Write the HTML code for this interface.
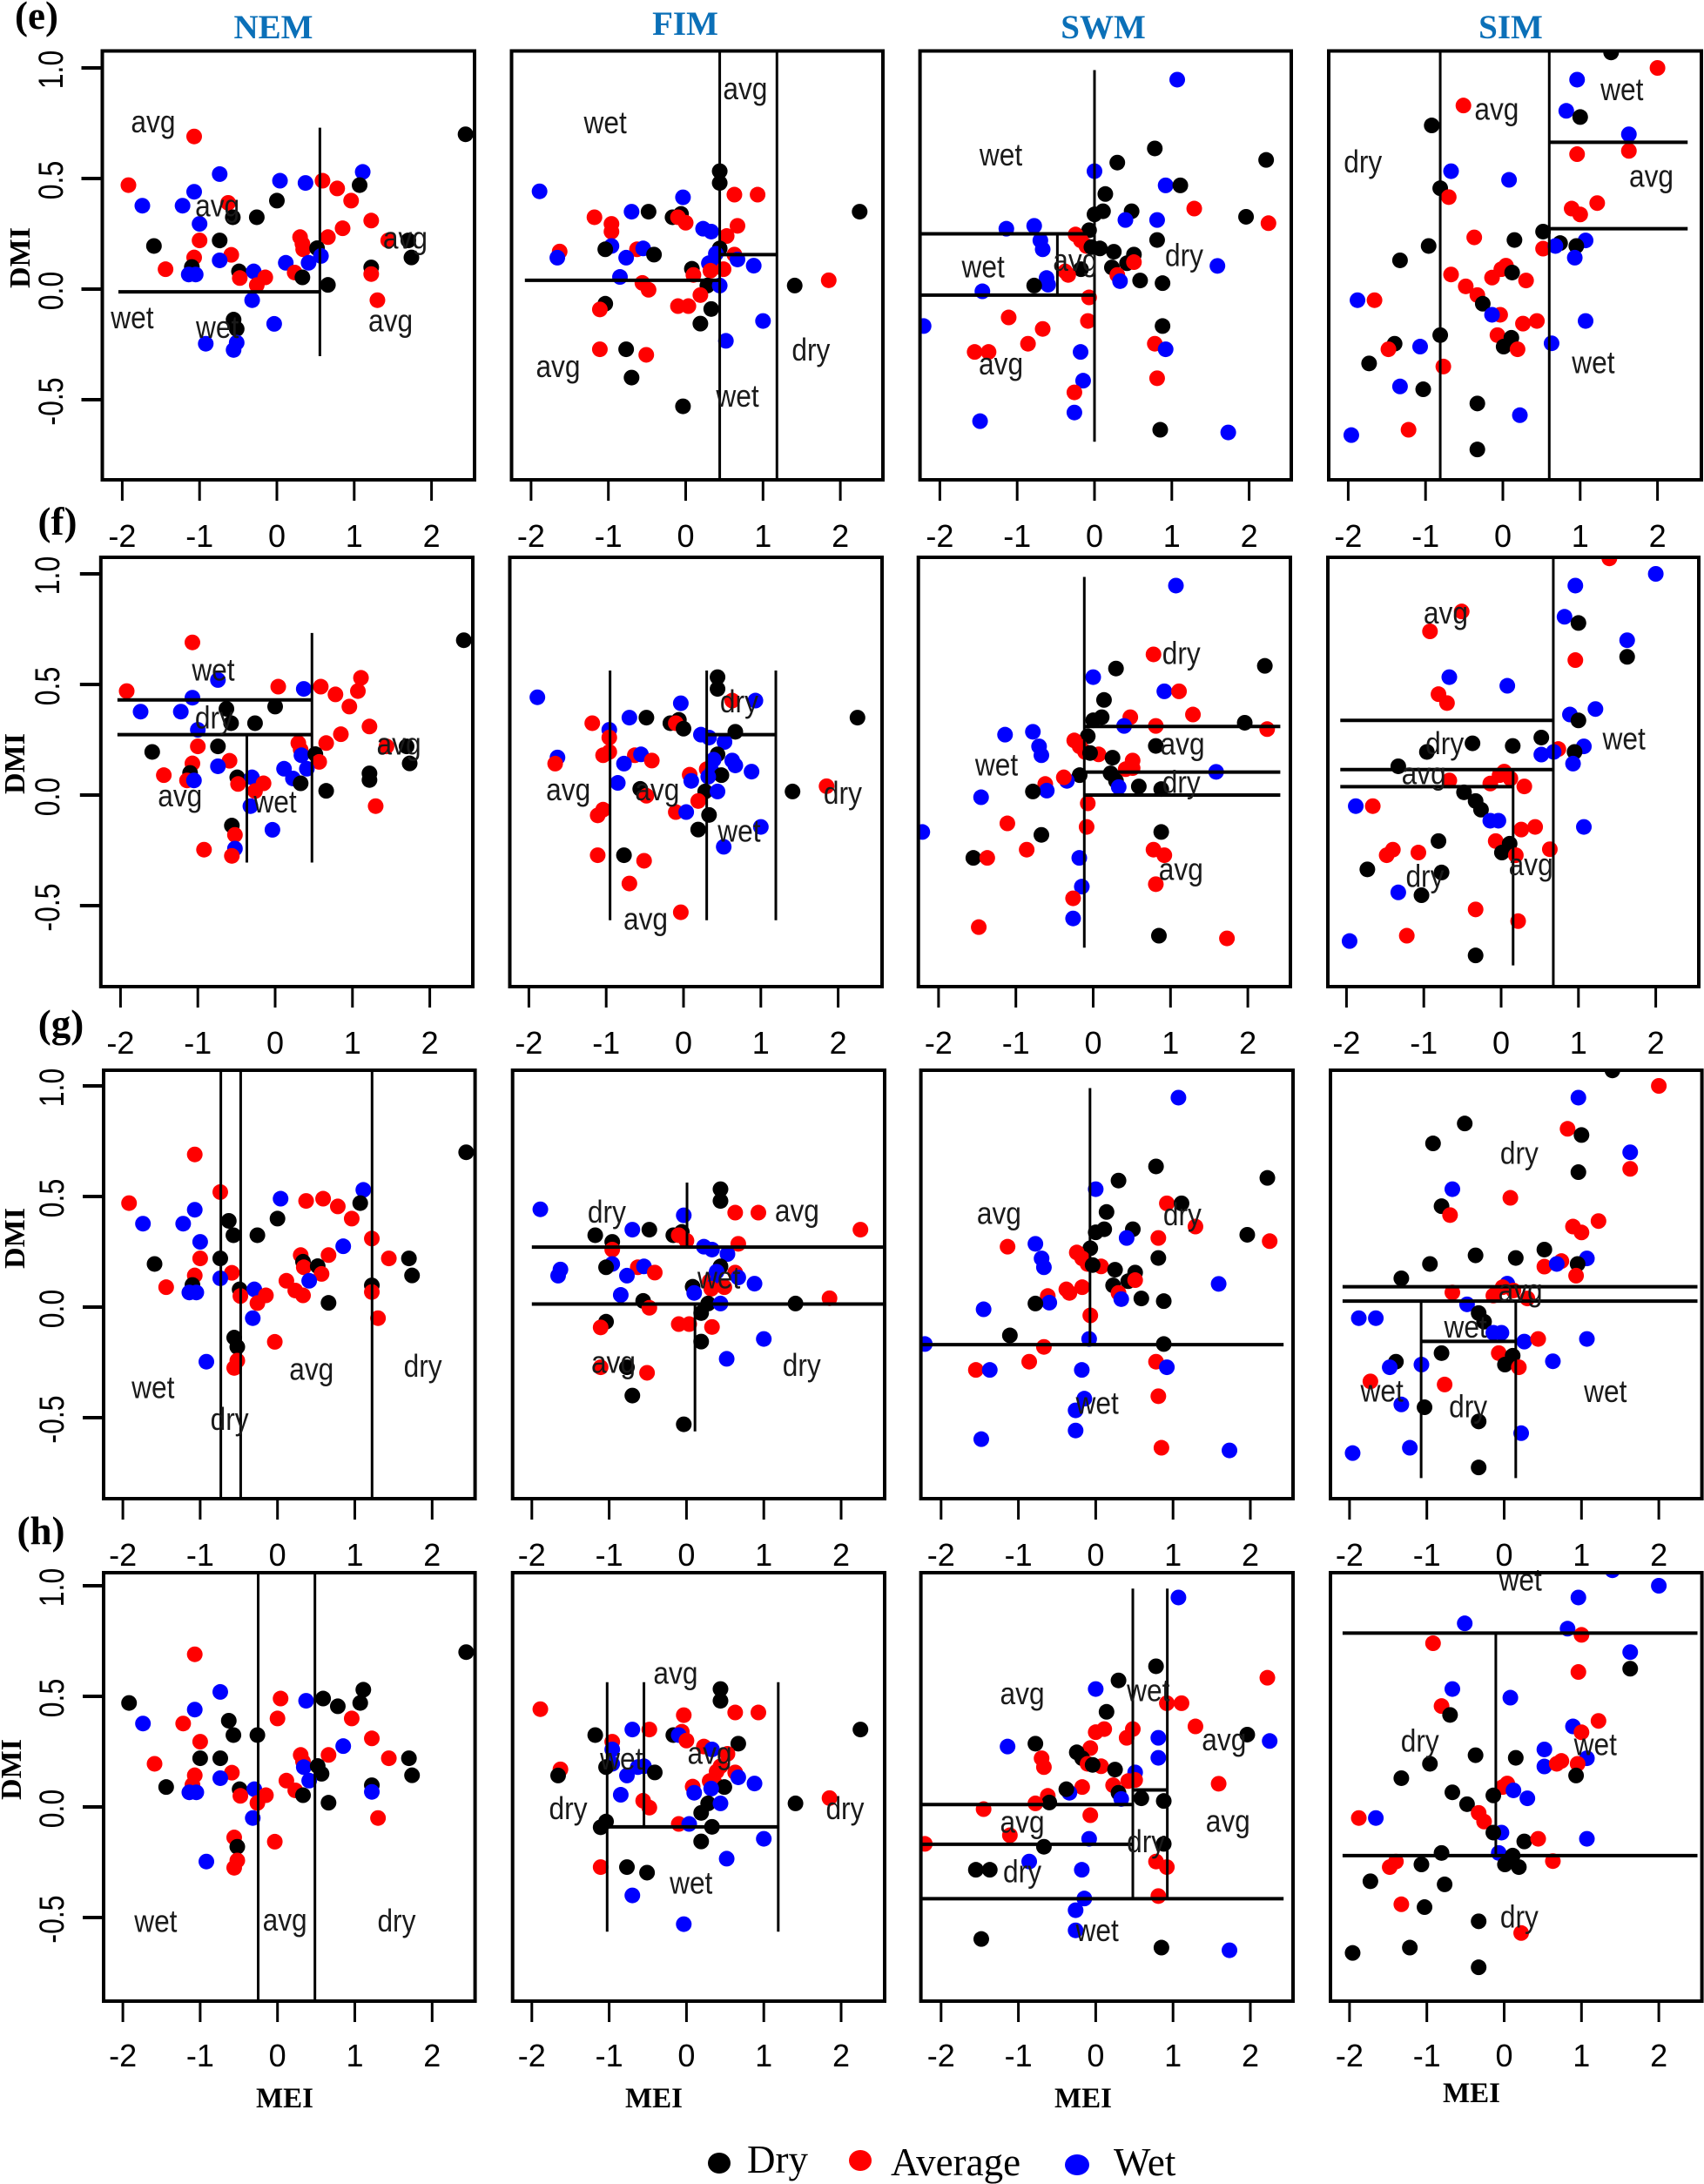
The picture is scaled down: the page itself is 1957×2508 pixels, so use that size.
<!DOCTYPE html>
<html lang="en">
<head>
<meta charset="utf-8">
<title>MEI vs DMI classification panels</title>
<style>
html,body{margin:0;padding:0;background:#fff;width:1957px;height:2508px;overflow:hidden}
svg{display:block}
.serifb{font-family:"Liberation Serif",serif;font-weight:bold}
.serif{font-family:"Liberation Serif",serif}
.sans{font-family:"Liberation Sans",sans-serif}
</style>
</head>
<body>
<svg id="chart" width="1957" height="2508" viewBox="0 0 1957 2508" xmlns="http://www.w3.org/2000/svg">
  <rect width="1957" height="2508" fill="#fff"/>
  <g id="panels"></g>
  <g class="serifb" font-size="39" fill="#0b70b8" text-anchor="middle">
    <text x="314" y="44">NEM</text>
    <text x="787" y="40">FIM</text>
    <text x="1267" y="44">SWM</text>
    <text x="1735" y="44">SIM</text>
  </g>
  <g class="serifb" font-size="45" fill="#000" text-anchor="middle">
    <text x="42" y="33">(e)</text>
    <text x="66" y="614">(f)</text>
    <text x="70" y="1191">(g)</text>
    <text x="47" y="1773">(h)</text>
  </g>
  <g class="serifb" font-size="34" fill="#000" text-anchor="middle">
    <text transform="translate(34,296) rotate(-90)">DMI</text>
    <text transform="translate(28,877) rotate(-90)">DMI</text>
    <text transform="translate(28,1422) rotate(-90)">DMI</text>
    <text transform="translate(24,2032) rotate(-90)">DMI</text>
  </g>
  <g class="serifb" font-size="33" fill="#000" text-anchor="middle">
    <text x="327" y="2420">MEI</text>
    <text x="751" y="2420">MEI</text>
    <text x="1244" y="2420">MEI</text>
    <text x="1690" y="2414">MEI</text>
  </g>
  <g class="serif" font-size="45" fill="#000">
    <ellipse cx="826" cy="2484" rx="13" ry="12" fill="#000"/>
    <text x="858" y="2495">Dry</text>
    <ellipse cx="988" cy="2481" rx="13" ry="12" fill="#f00"/>
    <text x="1023" y="2498">Average</text>
    <ellipse cx="1237" cy="2486" rx="14" ry="12" fill="#00f"/>
    <text x="1279" y="2498">Wet</text>
  </g>
</svg>
<script>
/* ---------- point values per season ---------- */
const nemMei=[2.44,-1.07,-.74,.04,.37,.59,1.11,1.07,-1.92,-1.07,.78,.96,0,-.63,-1.74,-1.22,-.57,-.26,-1,1.22,.85,.30,.66,.33,.34,-1.59,-1,-.74,.52,-.59,-1.07,.57,-.74,.115,.41,1.74,1.70,1.44,-1.44,-1.1,1.22,1.22,-1.14,-1.05,-.49,-.3,-.15,-.48,.23,.33,-.26,.66,-.32,1.30,-.56,-.035,-.52,-.92,-.52,-.56];
const nemDmi=[.70,.69,.52,.49,.48,.49,.53,.47,.47,.44,.455,.40,.40,.39,.377,.377,.325,.325,.295,.31,.275,.235,.235,.205,.18,.195,.22,.22,.185,.155,.143,.15,.13,.119,.119,.143,.22,.22,.09,.10,.098,.068,.066,.066,.08,.08,.053,.05,.075,.053,.018,.019,-.05,-.05,-.138,-.157,-.18,-.247,-.242,-.275];
const fimMei=[.44,.44,.63,.93,-1.89,-.035,-.7,-.48,-.17,-.06,-.1,0,-1.18,-.96,-.96,.225,.33,.67,.53,.44,-.96,-1.04,-.63,-.55,-1.63,-1.66,-.77,-.41,.63,.67,.88,.3,.39,.37,.49,.32,.08,.1,-.85,-.56,-.48,.28,.44,1.41,1.85,.19,-.1,.035,-1.04,-1.11,.33,.19,1.0,.52,-1.11,-.77,-.51,-.7,-.035,2.25];
const fimDmi=[.533,.48,.427,.427,.442,.415,.35,.35,.325,.34,.325,.30,.325,.295,.26,.273,.26,.286,.24,.184,.195,.18,.18,.184,.17,.142,.142,.156,.156,.134,.106,.117,.16,.106,.09,.083,.092,.064,.055,.028,-.003,.016,.016,.016,.04,-.027,-.077,-.077,-.066,-.092,-.09,-.156,-.144,-.234,-.272,-.272,-.297,-.40,-.53,.35];
const swmMei=[1.07,.78,2.22,.295,0,.92,1.11,.14,1.29,0,.11,.48,.4,.81,1.96,2.25,-1.14,-.78,-.07,-.245,-.175,-.7,.81,-.67,-.105,.07,.25,.51,.42,.51,-.175,-.34,.225,.295,.33,.59,.88,1.59,-.62,-.6,-.78,-1.45,-.07,-1.11,-.67,-.085,.88,-2.21,-.86,-1.55,-1.37,.78,.92,-.18,.81,-.147,-.26,-.26,-1.48,.85,1.73,-.04,-.38];
const swmDmi=[.947,.636,.584,.572,.533,.469,.469,.43,.364,.338,.352,.352,.3125,.3125,.327,.298,.273,.286,.266,.247,.22,.22,.222,.18,.195,.184,.169,.156,.117,.122,.09,.064,.098,.064,.036,.039,.027,.105,.05,.02,.016,-.01,-.0375,-.128,-.18,-.144,-.167,-.167,-.247,-.284,-.284,-.247,-.272,-.284,-.403,-.414,-.467,-.558,-.597,-.636,-.648,.19,.08];
const simMei=[1.40,2.0,.96,-.51,.82,1.0,-.92,1.63,.96,1.63,-.67,.08,-.81,-.7,1.22,.89,1.0,.52,-.37,.15,-.96,.74,1.07,.95,.52,.68,.93,-1.33,-.67,.04,-.02,-.14,.12,.3,-.48,-.33,-.26,-1.88,-1.66,-.035,-.14,.26,.44,1.07,-.81,-.07,.11,.01,.63,-1.4,-1.48,-1.07,.19,-1.73,-.77,-1.33,-1.03,-.33,.22,-1.22,-1.96,-.33];
const simDmi=[1.07,1.0,.947,.83,.806,.778,.74,.70,.61,.625,.533,.494,.456,.416,.389,.364,.3375,.26,.234,.222,.195,.208,.22,.195,.183,.195,.142,.13,.066,.106,.09,.052,.075,.039,.0125,-.027,-.066,-.05,-.05,-.116,-.116,-.156,-.144,-.144,-.208,-.208,-.22,-.26,-.245,-.247,-.272,-.26,-.272,-.336,-.35,-.44,-.453,-.517,-.57,-.636,-.66,-.725];

/* ---------- class of each point (k = dry, r = average, b = wet) ---------- */
const nemClassE="krbbbrbkrb"+"rrkrbbkkbr"+"rrrrrkrkkr"+"rbbbbkkrrk"+"krbbkbrrrk"+"rkbrkbkbbb";
const nemClassF="krbrbrrrrb"+"rrkkbbkkbr"+"rrrrbkrkkr"+"rrbbbkkrrk"+"kkrbkbrrbk"+"rkbrkbrrbr";
const nemClassG="krrbrrbkrb"+"rrkkbbkkbr"+"brrkrkrkkr"+"rrbrbkkrrk"+"krbbkbrrrr"+"rkbrkrkbrr";
const nemClassH="krbrbkkkkb"+"krrkbrkkrr"+"brrrbrkkkr"+"rkbrbkkrkr"+"kbbbkbrrrk"+"rkbrrrkbrr";
const fimClassE="kkrrbbbkkk"+"rrrrrbbrrk"+"bkrbrbbkrb"+"bbbbrrkrbr"+"rkbkrrrrkr"+"kkbbrkrkkk";
const fimClassF="kkrbbbbkkk"+"rkrbrbbkbk"+"rrrbbrbrbb"+"brbbkbrbbk"+"rkbkrrrbrr"+"kkbbrkrrrk";
const fimClassG="kkrrbbbkkk"+"rrkkrbbrbk"+"bkrbbbbrrb"+"brbbrrkbbk"+"rkbkrkrrkr"+"rkbbrkrkkr";
const fimClassH="kkrrrrbrkr"+"brkrbrbkrr"+"bkbbrkbkrb"+"brrrkbrbbr"+"rkbkrkrbkk"+"kkbbrkkbbk";
const swmClassE="bkkkbbkkrk"+"kkbbkrbbkr"+"rbkbrkkkkr"+"krkrbkkbbb"+"kbrrrrkbrr"+"rrbbrbrbbk"+"bkr";
const swmClassF="brkkbbrkrk"+"krbrkrbbkr"+"rbkbrrkrrr"+"kbkkbkkbrb"+"kbrrkrkbrk"+"rrrbrbrbrk"+"rkr";
const swmClassG="bkkkbrkkrk"+"kkbrkrrbkr"+"rbkbrrkkkr"+"rrkrbkkbrb"+"kbrkrbkbrr"+"brbbrbbbbr"+"bkr";
const swmClassH="bkrkbrrkrr"+"rrrbkbbkrk"+"krbrrrkbrr"+"rbrkbkkrrk"+"rrrrkbkrbk"+"krrbrbbbkk"+"bkk";
const simClassE="krbrbkkbrr"+"bbkrrrrkrk"+"kkbkrbbkrr"+"rrkrrrkbrr"+"brrbkrkkbk"+"rbrkrbkkbr"+"bk";
const simClassF="rbbrbkrbrk"+"bbrrbbkkkk"+"krbkbbbkrr"+"rrrrkkkbrb"+"brrbkrkkrr"+"rrrkkbkrrr"+"bk";
const simClassG="krbkrkkbkr"+"brkrrrrkkk"+"krbkrbrkrb"+"rrrrbkkbbb"+"bbrbkrkkbk"+"bbrrrbkkbb"+"bk";
const simClassH="bbbbbrrbrk"+"bbrkrbrbkk"+"krbrbrkkkr"+"rkbbkrrrbb"+"kkrbkbkkrr"+"rkkkkrkkrk"+"kk";

/* ---------- split lines as [mei1, dmi1, mei2, dmi2]; values past the frame get clipped ---------- */
const eNemLines=[[.556,.73,.556,-.303],[-2.05,-.0125,.556,-.0125]];
const eFimLines=[[.44,2,.44,-2],[1.18,2,1.18,-2],[-2.08,.04,.44,.04],[.44,.156,1.18,.156]];
const eSwmLines=[[0,.99,0,-.69],[-3,.25,0,.25],[-3,-.027,0,-.027],[-.48,.25,-.48,-.027]];
const eSimLines=[[-.81,2,-.81,-2],[.6,2,.6,-2],[.6,.664,2.39,.664],[.6,.273,2.39,.273]];
const fNemLines=[[-2.04,.43,.476,.43],[-2.04,.273,.476,.273],[.476,.733,.476,-.305],[-.366,.273,-.366,-.305]];
const fFimLines=[[-.95,.563,-.95,-.566],[.3,.563,.3,-.566],[1.194,.563,1.194,-.566],[.3,.273,1.194,.273]];
const fSwmLines=[[-.115,.986,-.115,-.69],[-.115,.31,2.42,.31],[-.115,.104,2.42,.104],[-.115,0,2.42,0]];
const fSimLines=[[.675,2,.675,-2],[.155,.115,.155,-.77],[-2.08,.3375,.675,.3375],[-2.08,.115,.675,.115],[-2.08,.038,.155,.038]];
const gNemLines=[[-.733,2,-.733,-2],[-.476,2,-.476,-2],[1.223,2,1.223,-2]];
const gFimLines=[[-2,.271,2.55,.271],[-2,.014,2.55,.014],[.007,.563,.007,.271],[.11,.014,.11,-.562]];
const gSwmLines=[[-.074,.99,-.074,-.17],[-3,-.17,2.43,-.17]];
const gSimLines=[[-2.09,.092,2.5,.092],[-2.09,.027,2.5,.027],[-1.074,.027,-1.074,-.773],[.15,.027,.15,-.773],[-1.074,-.155,.15,-.155]];
const hNemLines=[[-.25,2,-.25,-2],[.484,2,.484,-2]];
const hFimLines=[[-1.026,.564,-1.026,-.564],[-.55,.564,-.55,-.09],[1.187,.564,1.187,-.564],[-1.026,-.09,1.187,-.09]];
const hSwmLines=[[.48,.987,.48,-.415],[.926,.987,.926,-.415],[-3,-.415,2.43,-.415],[-3,.011,.48,.011],[-3,-.169,.48,-.169],[.48,.077,.926,.077]];
const hSimLines=[[-2.09,.786,2.5,.786],[-2.09,-.22,2.5,-.22],[-.108,.786,-.108,-.22]];

/* ---------- region labels as [mei, dmi, text] ---------- */
const eNemLabels=[[-1.6,.74,"avg"],[-.77,.36,"avg"],[1.66,.215,"avg"],[-1.87,-.136,"wet"],[-.77,-.18,"wet"],[1.47,-.16,"avg"]];
const eFimLabels=[[.77,.89,"avg"],[-1.04,.747,"wet"],[-1.65,-.366,"avg"],[.67,-.49,"wet"],[1.62,-.288,"dry"]];
const eSwmLabels=[[-1.21,.6,"wet"],[-1.44,.094,"wet"],[-.25,.114,"avg"],[1.16,.14,"dry"],[-1.21,-.355,"avg"]];
const eSimLabels=[[-1.81,.5625,"dry"],[-.08,.797,"avg"],[1.54,.895,"wet"],[1.92,.494,"avg"],[1.17,-.339,"wet"]];
const fNemLabels=[[-.8,.56,"wet"],[-.79,.337,"dry"],[-1.23,-.02,"avg"],[1.6,.215,"avg"],[0,-.037,"wet"]];
const fFimLabels=[[.72,.41,"dry"],[-1.49,.008,"avg"],[-.34,.008,"avg"],[2.06,-.004,"dry"],[.72,-.17,"wet"],[-.49,-.576,"avg"]];
const fSwmLabels=[[1.14,.627,"dry"],[1.155,.214,"avg"],[1.14,.045,"dry"],[-1.25,.13,"wet"],[1.135,-.353,"avg"]];
const fSimLabels=[[-.716,.807,"avg"],[-.73,.22,"dry"],[-1.0,.08,"avg"],[1.59,.2475,"wet"],[-.986,-.38,"dry"],[.385,-.33,"avg"]];
const gNemLabels=[[-1.61,-.37,"wet"],[-.62,-.52,"dry"],[.44,-.297,"avg"],[1.88,-.28,"dry"]];
const gFimLabels=[[-1.03,.417,"dry"],[1.43,.42,"avg"],[.42,.126,"wet"],[-.945,-.266,"avg"],[1.49,-.275,"dry"]];
const gSwmLabels=[[-1.25,.408,"avg"],[1.12,.405,"dry"],[.02,-.44,"wet"]];
const gSimLabels=[[.196,.684,"dry"],[.21,.06,"avg"],[-.5,-.096,"wet"],[-1.58,-.386,"wet"],[-.466,-.463,"dry"],[1.31,-.388,"wet"]];
const hNemLabels=[[-1.575,-.524,"wet"],[.095,-.528,"avg"],[1.54,-.528,"dry"]];
const hFimLabels=[[-.14,.588,"avg"],[-.84,.21,"wet"],[.3,.227,"avg"],[-1.53,-.02,"dry"],[2.05,-.02,"dry"],[.06,-.35,"wet"]];
const hSwmLabels=[[-.95,.497,"avg"],[.68,.52,"wet"],[1.66,.288,"avg"],[1.71,-.08,"avg"],[-.95,-.084,"avg"],[.65,-.169,"dry"],[-.95,-.305,"dry"],[.02,-.565,"wet"]];
const hSimLabels=[[.21,1.02,"wet"],[-1.09,.285,"dry"],[1.18,.276,"wet"],[.196,-.51,"dry"]];

/* ---------- tick labels ---------- */
const xTicks=[-2,-1,0,1,2];
const yTicks=[1.0,0.5,0.0,-0.5];
const yTickText=["1.0","0.5","0.0","-0.5"];

/* ---------- layout (pixels) ---------- */
const UX=88.8, UY=254, NS='http://www.w3.org/2000/svg';
const rowLayout=[
 {id:'e',top:58.5,bottom:551,zeroY:332,yLabelX:72,xLabelY:628,cols:[[117.5,545,318],[587.5,1014,787.5],[1056.6,1483,1257],[1526,1954,1726]]},
 {id:'f',top:640,bottom:1133,zeroY:913,yLabelX:68,xLabelY:1210,cols:[[115.8,543,316],[585.5,1013,785],[1054.7,1482,1255.5],[1525,1951,1724]]},
 {id:'g',top:1229,bottom:1721,zeroY:1501,yLabelX:73,xLabelY:1798,cols:[[119,545.6,318.7],[588.7,1016,788.4],[1057.6,1485,1258.4],[1528,1954.6,1727.5]]},
 {id:'h',top:1806,bottom:2298,zeroY:2075,yLabelX:73,xLabelY:2373,cols:[[119,545.6,318.7],[588.7,1016,788.4],[1057.6,1485,1258.4],[1528,1954.6,1727.5]]}
];
const seasons=[
 {id:'nem',mei:nemMei,dmi:nemDmi,cls:[nemClassE,nemClassF,nemClassG,nemClassH],lines:[eNemLines,fNemLines,gNemLines,hNemLines],labels:[eNemLabels,fNemLabels,gNemLabels,hNemLabels]},
 {id:'fim',mei:fimMei,dmi:fimDmi,cls:[fimClassE,fimClassF,fimClassG,fimClassH],lines:[eFimLines,fFimLines,gFimLines,hFimLines],labels:[eFimLabels,fFimLabels,gFimLabels,hFimLabels]},
 {id:'swm',mei:swmMei,dmi:swmDmi,cls:[swmClassE,swmClassF,swmClassG,swmClassH],lines:[eSwmLines,fSwmLines,gSwmLines,hSwmLines],labels:[eSwmLabels,fSwmLabels,gSwmLabels,hSwmLabels]},
 {id:'sim',mei:simMei,dmi:simDmi,cls:[simClassE,simClassF,simClassG,simClassH],lines:[eSimLines,fSimLines,gSimLines,hSimLines],labels:[eSimLabels,fSimLabels,gSimLabels,hSimLabels]}
];
const classColor={k:'#000',r:'#f00',b:'#00f'};
const className={k:'dry',r:'average',b:'wet'};
const labelDrop={avg:8,wet:10.5,dry:9};

function el(tag,attrs,parent){
  const n=document.createElementNS(NS,tag);
  for(const k in attrs){n.setAttribute(k,attrs[k]);}
  parent.appendChild(n);
  return n;
}
const root=document.getElementById('panels');
const defs=el('defs',{},root);

rowLayout.forEach(function(row,ri){
  seasons.forEach(function(season,ci){
    const col=row.cols[ci];
    const left=col[0], right=col[1], zeroX=col[2];
    const sx=function(v){return zeroX+v*UX;};
    const sy=function(v){return row.zeroY-v*UY;};
    const clampX=function(p){return Math.max(left,Math.min(right,p));};
    const clampY=function(p){return Math.max(row.top,Math.min(row.bottom,p));};
    const pid=row.id+'-'+season.id;

    const g=el('g',{},root);
    
    

    const clip=el('clipPath',{id:'clip-'+pid},defs);
    el('rect',{x:left,y:row.top,width:right-left,height:row.bottom-row.top},clip);

    /* points */
    const dots=el('g',{'clip-path':'url(#clip-'+pid+')'},g);
    
    
    season.mei.forEach(function(m,i){
      const c=season.cls[ri].charAt(i);
      const d=el('circle',{cx:sx(m),cy:sy(season.dmi[i]),r:9,fill:classColor[c]},dots);
      
      
    });

    /* split lines */
    season.lines[ri].forEach(function(s){
      const isH=s[1]===s[3];
      const ln=el('line',{x1:clampX(sx(s[0])),y1:clampY(sy(s[1])),x2:clampX(sx(s[2])),y2:clampY(sy(s[3])),stroke:'#000','stroke-width':isH?4:3},g);
      
      
    });

    /* region labels */
    season.labels[ri].forEach(function(l){
      const t=el('text',{transform:'translate('+sx(l[0])+','+(sy(l[1])+labelDrop[l[2]])+') scale(.88,1)','font-size':36,'text-anchor':'middle',fill:'#1a1a1a','class':'sans'},g);
      t.textContent=l[2];
      
      
    });

    /* frame */
    const fr=el('rect',{x:left,y:row.top,width:right-left,height:row.bottom-row.top,fill:'none',stroke:'#000','stroke-width':4},g);
    
    

    /* x axis */
    xTicks.forEach(function(v){
      const tk=el('line',{x1:sx(v),x2:sx(v),y1:row.bottom,y2:row.bottom+24,stroke:'#000','stroke-width':3},g);
      
      
      const tl=el('text',{x:sx(v),y:row.xLabelY,'font-size':36,'text-anchor':'middle',fill:'#000','class':'sans'},g);
      tl.textContent=String(v);
      
      
    });

    /* y axis, first column only */
    if(ci===0){
      yTicks.forEach(function(v,k){
        const tk=el('line',{x1:left-24,x2:left,y1:sy(v),y2:sy(v),stroke:'#000','stroke-width':4},g);
        
        
        const tl=el('text',{transform:'translate('+row.yLabelX+','+(sy(v)+2)+') rotate(-90) scale(.8,1)','font-size':40,'text-anchor':'middle',fill:'#000','class':'sans'},g);
        tl.textContent=yTickText[k];
        
        
      });
    }
  });
});
</script>
</body>
</html>
